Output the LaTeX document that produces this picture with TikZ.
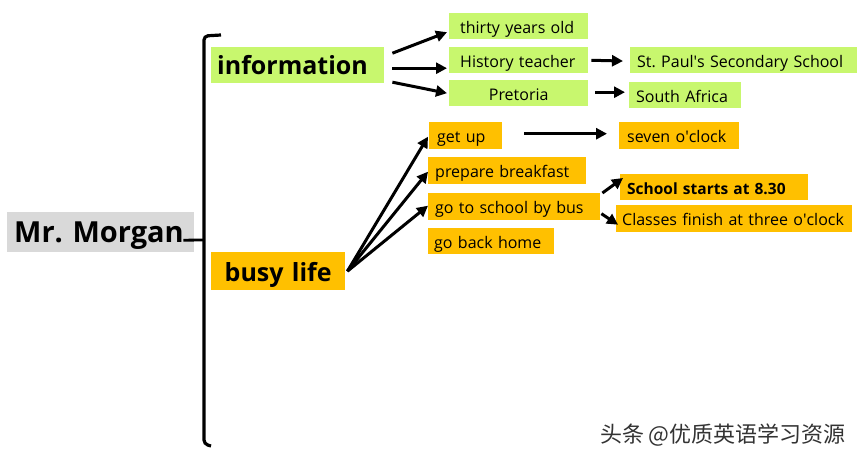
\documentclass[tikz,border=0pt]{standalone}
\usepackage{fontspec}
\setmainfont{Open Sans}
\newfontfamily\cjk{Noto Sans CJK SC}
\usetikzlibrary{positioning}
\usetikzlibrary{arrows.meta}
\definecolor{InfoGreen}{HTML}{C8F76E}
\definecolor{LifeGold}{HTML}{FFC000}
\definecolor{NameGray}{HTML}{D9D9D9}
\tikzset{
  Kasten/.style={anchor=north west, inner xsep=7pt, inner ysep=0pt,
    minimum height=26pt, text height=15pt, text depth=1pt,
    align=left, font=\fontsize{16}{18}\selectfont}, % kleine Kaesten
  GKasten/.style={Kasten, fill=InfoGreen},  % Kaesten zu information
  OKasten/.style={Kasten, fill=LifeGold},   % Kaesten zu busy life
  Titel/.style={anchor=north west, inner ysep=0pt, align=left,
    font=\bfseries\fontsize{25}{27}\selectfont},
  Ast/.style={line width=3pt, ->}          % Pfeile
}

\begin{document}
\frenchspacing
\begin{tikzpicture}[x=1pt, y=-1pt,
>={Triangle[length=11pt,width=11pt]} % Voreinstellung fuer Pfeilspitzen
]
\useasboundingbox (0,0) rectangle (860,460);

%Hauptknoten
\node[Titel, fill=NameGray, inner xsep=7pt, minimum height=40pt, text width=173pt,
  text height=21pt, text depth=1pt,
  font=\bfseries\fontsize{29}{31}\selectfont] (morgan) at (7,212) {Mr. Morgan};
\node[Titel, fill=InfoGreen, inner xsep=6pt, minimum height=36pt, text width=161pt,
  text height=19pt, text depth=1pt] (info) at (211,47) {information};
\node[Titel, fill=LifeGold, inner xsep=6pt, minimum height=38pt, text width=122pt,
  text height=20pt, text depth=0pt, align=center] (busy) at (211,252) {busy life};

%Klammer
\coordinate (klammer) at (204,240);
\draw[line width=3.2pt, rounded corners=4pt] (221,35) -- (204,36) -- (204,444) -- (211,446);
\draw[line width=2.8pt] ([xshift=-11pt, yshift=-8pt]morgan.east) -- (klammer);

%information
\node[GKasten, inner xsep=11pt, text width=117pt] (age) at (449,13) {thirty years old};
\node[GKasten, inner xsep=11pt, text width=117pt] (job) at (449,47) {History teacher};
\node[GKasten, text width=125pt, align=center] (city) at (449,80) {Pretoria};
\node[GKasten, text width=213pt] (school) at (630,47) {St. Paul\textquotesingle s Secondary School};
\node[GKasten, text width=98pt] (country) at (629,82) {South Africa};

%busy life
\node[OKasten, inner xsep=8pt, minimum height=27pt, text width=57pt] (getup) at (429,122) {get up};
\node[OKasten, inner xsep=8pt, minimum height=27pt, text width=104pt] (seven) at (619,122) {seven o\textquotesingle clock};
\node[OKasten, minimum height=27pt, text width=144pt] (breakfast) at (428,157) {prepare breakfast};
\node[OKasten, minimum height=27pt, text width=158pt] (bus) at (428,193) {go to school by bus};
\node[OKasten, inner xsep=6pt, text width=114pt] (home) at (428,228) {go back home};
\node[OKasten, text width=174pt, font=\bfseries\fontsize{15.5}{17}\selectfont] (starts) at (620,174) {School starts at 8.30};
\node[OKasten, inner xsep=6pt, minimum height=27pt, text width=224pt] (finish) at (616,205) {Classes finish at three o\textquotesingle clock};

%Pfeile information
\draw[Ast] ([xshift=8pt, yshift=12pt]info.east) -- ([xshift=-2pt, yshift=-6pt]age.west);
\draw[Ast] ([xshift=8pt, yshift=-3pt]info.east) -- ([xshift=-2pt, yshift=-8pt]job.west);
\draw[Ast] ([xshift=8pt, yshift=-17pt]info.east) -- ([xshift=-2pt]city.west);
\draw[Ast, shorten <=3pt, shorten >=7pt] (job.east) -- ([yshift=-1pt]school.west);
\draw[Ast, shorten <=7pt, shorten >=4pt] ([yshift=1pt]city.east) -- ([yshift=3pt]country.west);

%Pfeile busy life
\draw[Ast] ([xshift=2pt]busy.east) -- ([xshift=-1pt, yshift=-1pt]getup.west);
\draw[Ast] ([xshift=2pt]busy.east) -- ([yshift=-1pt]breakfast.west);
\draw[Ast] ([xshift=2pt]busy.east) -- ([yshift=1pt]bus.west);
\draw[Ast, shorten <=22pt, shorten >=12pt] ([yshift=2pt]getup.east) -- ([yshift=2pt]seven.west);
\draw[Ast] ([xshift=2pt]bus.north east) -- ([xshift=3pt, yshift=-4pt]starts.north west);
\draw[Ast] ([xshift=1pt, yshift=-7pt]bus.east) -- ([xshift=2pt, yshift=-6pt]finish.west);

%Wasserzeichen
\node[font=\cjk\fontsize{22}{24}\selectfont, text=black!80, anchor=east, inner sep=0pt] (mark) at (846,435) {头条 @优质英语学习资源};
\end{tikzpicture}
\end{document}
